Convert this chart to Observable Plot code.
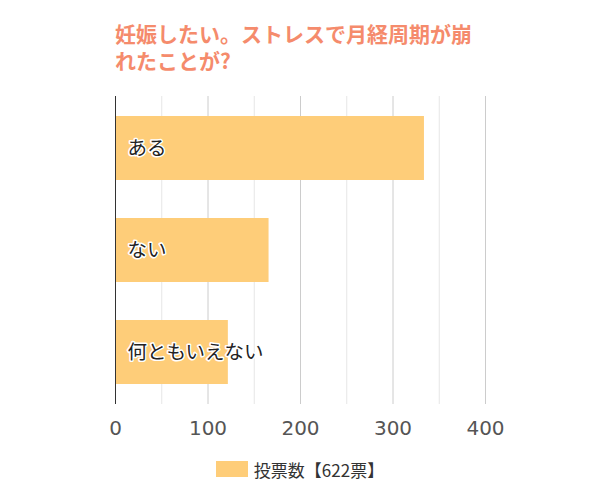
<!DOCTYPE html>
<html><head><meta charset="utf-8">
<script src="https://cdn.jsdelivr.net/npm/d3@7"></script>
<script src="https://cdn.jsdelivr.net/npm/@observablehq/plot@0.6"></script>
<style>
body{margin:0;background:#fff;font-family:"DejaVu Sans","Noto Sans CJK JP",sans-serif;}
#title{padding:20px 0 0 115px;height:60px;box-sizing:content-box;font-family:"Noto Sans CJK JP","DejaVu Sans",sans-serif;font-weight:bold;font-size:21px;line-height:27px;color:#F58B6C;}
#legend{display:flex;align-items:center;justify-content:center;height:20px;margin-top:9px;font-family:"Noto Sans CJK JP",sans-serif;font-size:17px;color:#333;}
#legend .sw{width:32px;height:16px;background:#FECD79;margin-right:6px;}
</style></head>
<body>
<div id="title">妊娠したい。ストレスで月経周期が崩<br>れたことが?</div>
<div id="chart"></div>
<div id="legend"><span class="sw"></span><span>投票数【622票】</span></div>
<script>
const categories = ["ある", "ない", "何ともいえない"];
const votes = [334, 166, 122];
const majorTicks = [0, 100, 200, 300, 400];
const minorTicks = [50, 150, 250, 350];
const data = categories.map((c, i) => ({category: c, votes: votes[i]}));

const chart = Plot.plot({
  width: 600,
  height: 370,
  marginLeft: 115,
  marginRight: 115,
  marginTop: 16,
  marginBottom: 46,
  style: {fontFamily: "DejaVu Sans, Noto Sans CJK JP, sans-serif", background: "#fff"},
  x: {domain: [0, 400], ticks: majorTicks, label: null},
  y: {domain: categories, paddingInner: 0.375, paddingOuter: 0.19, axis: null},
  marks: [
    Plot.ruleX(minorTicks, {stroke: "#e6e6e6", strokeWidth: 1}),
    Plot.ruleX(majorTicks.slice(1), {stroke: "#cccccc", strokeWidth: 1}),
    Plot.barX(data, {y: "category", x: "votes", fill: "#FECD79"}),
    Plot.ruleX([0], {stroke: "#333", strokeWidth: 1}),
    Plot.axisX({ticks: majorTicks, tickSize: 0, tickPadding: 16, fontSize: 20, fill: "#555", label: null,
      fontFamily: "DejaVu Sans", tickFormat: d => String(d)}),
    Plot.text(data, {y: "category", x: () => 0, text: "category", dx: 12, textAnchor: "start",
      fontSize: 19.5, fill: "#222", stroke: "white", strokeWidth: 3,
      fontFamily: "Noto Sans CJK JP, sans-serif"})
  ]
});
document.getElementById("chart").appendChild(chart);
</script>
</body></html>
